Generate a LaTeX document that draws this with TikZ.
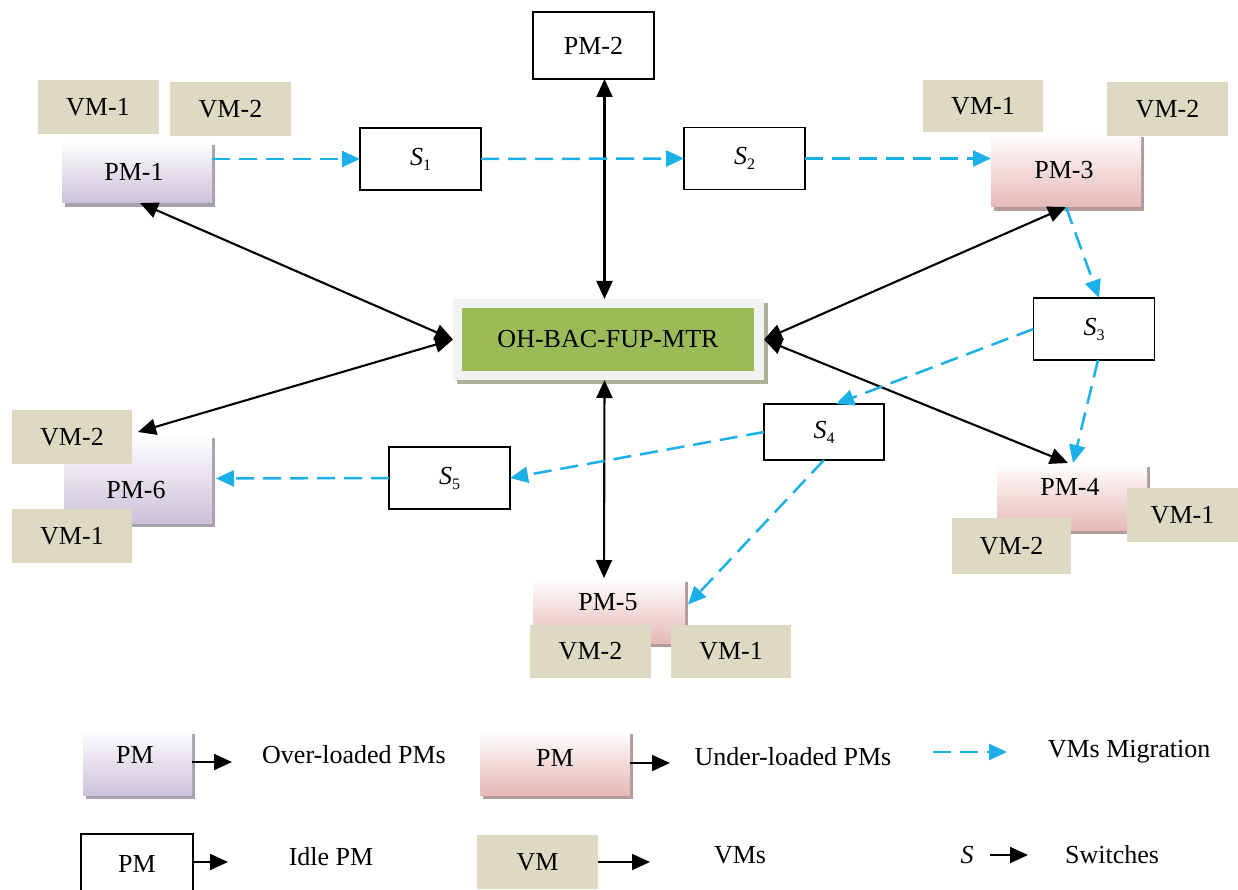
\documentclass[tikz,border=0pt]{standalone}
\usepackage{fontspec}
\setmainfont{Liberation Serif}
\usetikzlibrary{arrows.meta,shadows}

\definecolor{vmtan}{HTML}{DDD9C3}
\definecolor{lav}{HTML}{CCC1DA}
\definecolor{lavshade}{HTML}{A7A2B0}
\definecolor{rose}{HTML}{E6B9B8}
\definecolor{roseshade}{HTML}{B39B9B}
\definecolor{algogreen}{HTML}{9BBB59}
\definecolor{framegrey}{HTML}{F2F2F2}
\definecolor{frameshade}{HTML}{ABB196}
\definecolor{migblue}{HTML}{1CB0E8}

% switch label: italic S with a lowered index
\newcommand{\swlabel}[1]{\textit{S}\raisebox{-5pt}{\fontsize{16}{16}\selectfont #1}}

\begin{document}
\begin{tikzpicture}[x=1pt,y=-1pt,
  every node/.style={inner sep=0pt, outer sep=0pt, font=\fontsize{26}{29}\selectfont},
  idlebox/.style={draw=black, line width=1.3pt, fill=white, minimum width=121pt, minimum height=62pt},
  vmbox/.style={fill=vmtan, minimum width=121pt, minimum height=54pt},
  overpm/.style={top color=white, bottom color=lav, minimum width=150pt,
    drop shadow={shadow xshift=3pt, shadow yshift=-4pt, fill=lavshade, opacity=1}},
  underpm/.style={top color=white, bottom color=rose, minimum width=150pt,
    drop shadow={shadow xshift=3pt, shadow yshift=-4pt, fill=roseshade, opacity=1}},
  link/.style={line width=2.1pt, {Triangle[length=18pt,width=16pt]}-{Triangle[length=18pt,width=16pt]}},
  migrate/.style={migblue, line width=2.5pt, dash pattern=on 18pt off 9pt, -{Triangle[length=18pt,width=16pt]}},
  keyarrow/.style={line width=1.9pt, -{Triangle[length=18pt,width=16pt]}}
]
\clip (0,0) rectangle (1238,890);
\fill[white] (0,0) rectangle (1238,890);

% ---------- central controller ----------
\node[fill=framegrey, minimum width=311pt, minimum height=81pt,
  drop shadow={shadow xshift=4pt, shadow yshift=-4pt, fill=frameshade, opacity=1}] (core) at (608.5,339.5) {};
\node[fill=algogreen, minimum width=292pt, minimum height=63pt] (algo) at (608,339.5) {OH-BAC-FUP-MTR};

% ---------- idle PM and switches ----------
\node[idlebox, minimum height=67pt] (pm2) at (593.5,45.5) {PM-2};
\node[idlebox] (s1) at (420.5,159) {\swlabel{1}};
\node[idlebox] (s2) at (744.5,158.5) {\swlabel{2}};
\node[idlebox] (s3) at (1094,329) {\swlabel{3}};
\node[idlebox, minimum width=120pt, minimum height=56pt] (s4) at (824,432) {\swlabel{4}};
\node[idlebox] (s5) at (449.5,478) {\swlabel{5}};

% ---------- over-loaded PMs ----------
\node[overpm, minimum height=62pt] (pm1) at (137,172) {};
\node (pm1t) at (134,172) {PM-1};
\node[overpm, minimum width=148pt, minimum height=89pt] (pm6) at (138,478.5) {};
\node (pm6t) at (136,490) {PM-6};

% ---------- under-loaded PMs ----------
\node[underpm, minimum height=74pt] (pm3) at (1066,170) {};
\node (pm3t) at (1064,170) {PM-3};
\node[underpm, minimum height=67pt] (pm4) at (1072,496.5) {};
\node (pm4t) at (1070,487) {PM-4};
\node[underpm, minimum width=152pt, minimum height=65pt] (pm5) at (609,610.5) {};
\node (pm5t) at (608,602) {PM-5};

% ---------- virtual machines ----------
\node[vmbox] (pm1vm1) at (98,107) {VM-1};
\node[vmbox] (pm1vm2) at (230.5,109) {VM-2};
\node[vmbox, minimum width=120pt, minimum height=52pt] (pm3vm1) at (983,106) {VM-1};
\node[vmbox] (pm3vm2) at (1167.5,109.5) {VM-2};
\node[vmbox] (pm4vm1) at (1187.5,515) {\hspace*{-10pt}VM-1};
\node[vmbox, minimum width=119pt, minimum height=56pt] (pm4vm2) at (1011.5,546) {VM-2};
\node[vmbox, minimum height=53pt] (pm5vm2) at (590.5,651.5) {VM-2};
\node[vmbox, minimum width=120pt, minimum height=53pt] (pm5vm1) at (731,651.5) {VM-1};
\node[vmbox, minimum width=120pt] (pm6vm2) at (72,437) {VM-2};
\node[vmbox, minimum width=120pt] (pm6vm1) at (72,536) {VM-1};

% ---------- controller links ----------
\draw[link] ([xshift=11pt]pm2.south) -- ([xshift=-4pt]core.north);
\draw[link] ([xshift=3pt]pm1.south) -- (core.west);
\draw[link] (core.west) -- ([xshift=6pt,yshift=5pt]pm6vm2.east);
\draw[link] (core.east) -- (pm3.south);
\draw[link] (core.east) -- ([xshift=-4pt]pm4.north);
\draw[link] ([xshift=-4pt]core.south) -- ([xshift=-5pt]pm5.north);

% ---------- VM migration paths ----------
\draw[migrate] (pm1.east |- s1.west) -- (s1.west);
\draw[migrate] (s1.east) -- (s2.west);
\draw[migrate] (s2.east) -- (pm3.west |- s2.east);
\draw[migrate] (pm3.south) -- ([xshift=5pt]s3.north);
\draw[migrate] ([xshift=4pt]s3.south) -- ([xshift=1pt]pm4.north);
\draw[migrate] (s3.west) -- ([xshift=12pt]s4.north);
\draw[migrate] (s4.west) -- (s5.east);
\draw[migrate] (s4.south) -- ([xshift=3pt,yshift=6pt]pm5.east);
\draw[migrate] (s5.west) -- ([xshift=4pt]pm6.east);

% ---------- legend ----------
\node[overpm, minimum width=109pt, minimum height=65pt] (keyover) at (137.5,762.5) {};
\node (keyovert) at (135,755) {PM};
\coordinate (k1) at (232,762);
\draw[keyarrow] (keyover.east |- k1) -- (k1);
\node (overtext) at (354,755) {Over-loaded PMs};

\node[underpm, minimum height=65pt] (keyunder) at (555,762.5) {};
\node (keyundert) at (555,758) {PM};
\coordinate (k2) at (670,763);
\draw[keyarrow] (keyunder.east |- k2) -- (k2);
\node (undertext) at (793,757) {Under-loaded PMs};

\coordinate (m0) at (933,752);
\coordinate (m1) at (1007,752);
\draw[migrate] (m0) -- (m1);
\node (migtext) at (1129,752) {VMs Migration};

\node[idlebox, minimum width=112pt, minimum height=60pt] (keyidle) at (137,864) {PM};
\coordinate (k3) at (228,862);
\draw[keyarrow] (keyidle.east |- k3) -- (k3);
\node (idletext) at (331,857) {Idle PM};

\node[vmbox, minimum height=54pt] (keyvm) at (537.5,862) {VM};
\coordinate (k4) at (650,862);
\draw[keyarrow] (keyvm.east |- k4) -- (k4);
\node (vmtext) at (740,855) {VMs};

\node (keys) at (967,855) {\textit{S}};
\coordinate (k5) at (1028,855);
\draw[keyarrow] ([xshift=16pt]keys.east) -- (k5);
\node (swtext) at (1112,855) {Switches};
\end{tikzpicture}
\end{document}
